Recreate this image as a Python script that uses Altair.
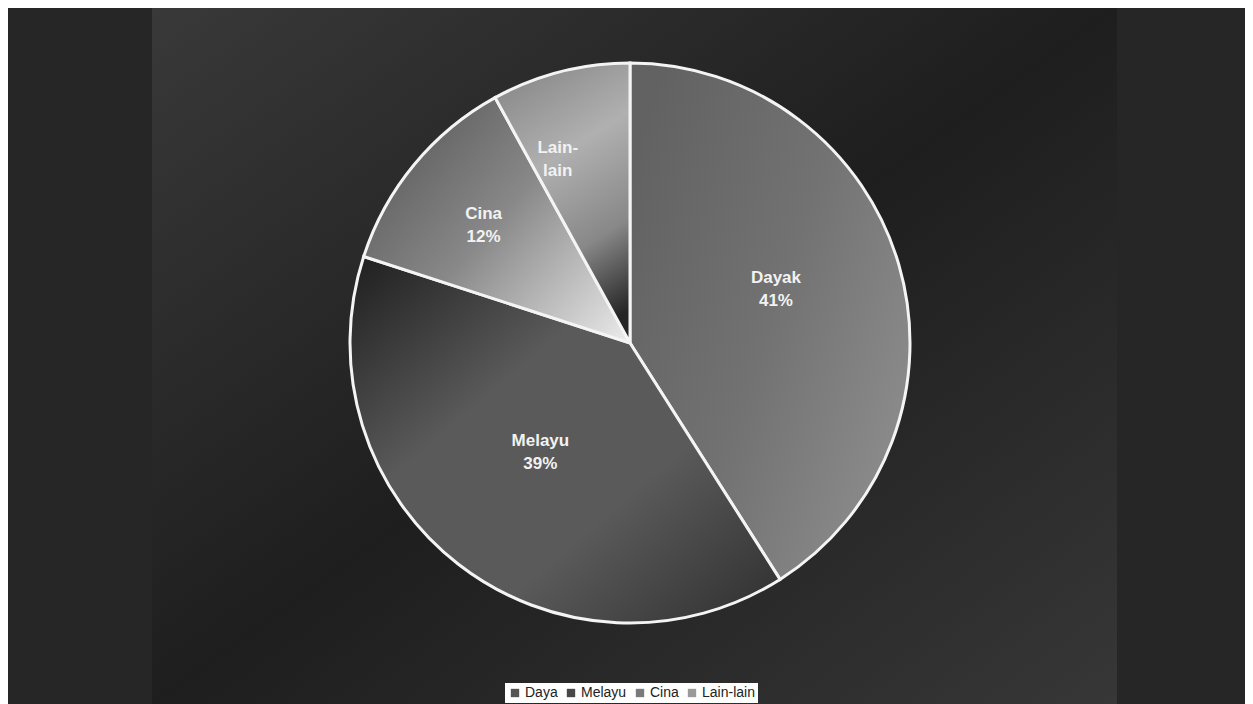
import altair as alt
import pandas as pd

# ---- data ----
categories = ["Dayak", "Melayu", "Cina", "Lain-lain"]
shares = [41, 39, 12, 8]
pie_labels = ["Dayak\n41%", "Melayu\n39%", "Cina\n12%", "Lain-\nlain"]
legend_labels = ["Daya", "Melayu", "Cina", "Lain-lain"]
legend_colors = ["#555555", "#474747", "#7a7a7a", "#9a9a9a"]

df = pd.DataFrame({
    "cat": categories,
    "value": shares,
    "label": pie_labels,
    "legend": legend_labels,
    "order": list(range(len(categories))),
})

W, H = 1237, 696
CX, CY, R = 622, 335, 280
TWO_PI = 6.283185307179586
theta_scale = alt.Scale(domain=[0, 100], range=[0, TWO_PI])


def lg(stops, x1=0, y1=0, x2=1, y2=1):
    return alt.LinearGradient(
        gradient="linear",
        stops=[alt.GradientStop(offset=o, color=c) for o, c in stops],
        x1=x1, y1=y1, x2=x2, y2=y2,
    )


slice_style = {
    "Dayak": dict(fill=lg([(0, "#626262"), (0.5, "#727272"), (1, "#8e8e8e")], 0, 0.2, 1, 0.8),
                  r=152, dx=0, dy=-23),
    "Melayu": dict(fill=lg([(0, "#1e1e1e"), (0.35, "#5a5a5a"), (0.65, "#5a5a5a"), (1, "#2e2e2e")]),
                   r=143, dx=-2, dy=-15),
    "Cina": dict(fill=lg([(0, "#5a5a5a"), (0.45, "#888888"), (1, "#ececec")], 0, 0.2, 1, 1),
                 r=190, dx=0, dy=-8),
    "Lain-lain": dict(fill=lg([(0, "#8a8a8a"), (0.35, "#b0b0b0"), (0.7, "#888888"), (1, "#262626")], 0.3, 0, 0.6, 1),
                      r=190, dx=-25, dy=-11),
}

base = alt.Chart(df).transform_window(
    cum="sum(value)", sort=[alt.SortField("order")], frame=[None, 0]
).transform_calculate(
    start="datum.cum - datum.value",
    mid="datum.cum - datum.value / 2",
)

# background panel with diagonal gradient
panel = alt.Chart(pd.DataFrame({"a": [0]})).mark_rect(
    fill=lg([(0, "#393939"), (0.5, "#1e1e1e"), (1, "#373737")])
).encode(
    x=alt.value(144), x2=alt.value(1109), y=alt.value(-2), y2=alt.value(H)
)

layers = [panel]
for cat in categories:
    st = slice_style[cat]
    arc = base.transform_filter(alt.datum.cat == cat).mark_arc(
        fill=st["fill"], stroke="#f4f4f4", strokeWidth=3, outerRadius=R
    ).encode(
        theta=alt.Theta("start:Q", scale=theta_scale),
        theta2="cum:Q",
        x=alt.value(CX), y=alt.value(CY),
    )
    layers.append(arc)

for cat in categories:
    st = slice_style[cat]
    txt = base.transform_filter(alt.datum.cat == cat).mark_text(
        font="Liberation Sans", fontWeight="bold", fontSize=17, color="#f2f2f2",
        lineBreak="\n", lineHeight=23, radius=st["r"], dx=st["dx"], dy=st["dy"],
        align="center", baseline="middle",
    ).encode(
        theta=alt.Theta("mid:Q", scale=theta_scale),
        text="label:N",
        x=alt.value(CX), y=alt.value(CY),
    )
    layers.append(txt)

legend_layer = base.mark_point(opacity=0, shape="square", filled=True).encode(
    color=alt.Color(
        "cat:N",
        scale=alt.Scale(domain=categories, range=legend_colors),
        legend=alt.Legend(
            orient="none", legendX=497, legendY=675, direction="horizontal",
            title=None, fillColor="#ffffff", padding=3,
            labelFont="Liberation Sans", labelFontSize=14, labelColor="#222222",
            symbolType="square", symbolSize=70, symbolOpacity=1, symbolStrokeWidth=0,
            columnPadding=6, labelOffset=3,
            labelExpr="datum.label == 'Dayak' ? 'Daya' : datum.label",
        ),
    ),
    x=alt.value(CX), y=alt.value(CY),
)
layers.append(legend_layer)

chart = alt.layer(*layers).properties(
    width=W, height=H, background="#262626", padding=0,
    autosize=alt.AutoSizeParams(type="none"),
).configure_view(stroke=None)

chart.save("out.html", embed_options={"renderer": "svg", "actions": False})
